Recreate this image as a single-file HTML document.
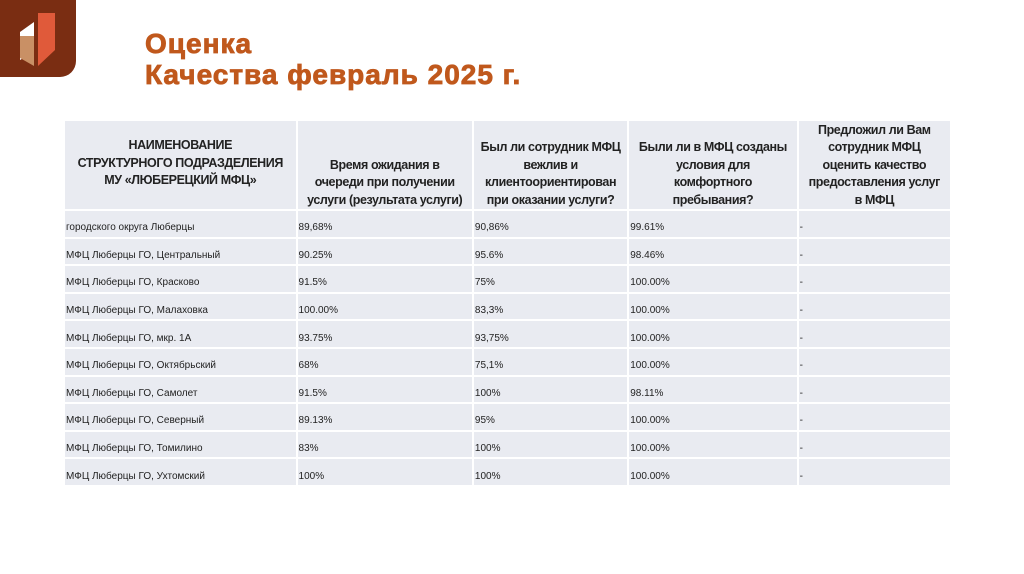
<!DOCTYPE html>
<html><head><meta charset="utf-8"><style>
body{margin:0;width:1024px;height:574px;background:#fff;position:relative;overflow:hidden;font-family:"Liberation Sans","DejaVu Sans",sans-serif}
.logo{position:absolute;left:0;top:0;width:76px;height:77px;background:#7a2d12;border-radius:0 0 16px 0}
h1{position:absolute;left:145px;top:28px;margin:0;font-size:28px;line-height:31px;color:#c0581c;font-weight:bold;letter-spacing:1px;-webkit-text-stroke:0.8px #c0581c}
table{position:absolute;left:63px;top:119px;border-collapse:separate;border-spacing:2px;table-layout:fixed;width:889px}
td,th{background:#e9ebf1;padding:0 2px;white-space:nowrap;overflow:hidden}
th{font-size:12.5px;font-weight:bold;color:#222;text-align:center;height:88px;line-height:17.5px;vertical-align:bottom;padding:0;letter-spacing:-0.4px;box-sizing:border-box}
td{font-size:10px;line-height:12px;color:#222;height:16.6px;vertical-align:middle;padding:9px 1px 0}
</style></head><body>
<div class="logo">
<svg width="76" height="77" viewBox="0 0 76 77"><polygon points="20,32 34,22 34,52 20,60" fill="#fff"/><polygon points="20,36 34,36 34,66 20,58" fill="#c99065"/><polygon points="38,13 55,13 55,50 38,66" fill="#e05a3a"/></svg>
</div>
<h1>Оценка<br>Качества февраль 2025 г.</h1>
<table>
<colgroup><col style="width:230px"><col style="width:174px"><col style="width:153px"><col style="width:167px"><col style="width:151px"></colgroup>
<tr style="height:88px">
<th style="vertical-align:top;padding-top:16px">НАИМЕНОВАНИЕ<br>СТРУКТУРНОГО ПОДРАЗДЕЛЕНИЯ<br>МУ «ЛЮБЕРЕЦКИЙ МФЦ»</th>
<th>Время ожидания в<br>очереди при получении<br>услуги (результата услуги)</th>
<th>Был ли сотрудник МФЦ<br>вежлив и<br>клиентоориентирован<br>при оказании услуги?</th>
<th>Были ли в МФЦ созданы<br>условия для<br>комфортного<br>пребывания?</th>
<th>Предложил ли Вам<br>сотрудник МФЦ<br>оценить качество<br>предоставления услуг<br>в МФЦ</th>
</tr>
<tr><td>городского округа Люберцы</td><td>89,68%</td><td>90,86%</td><td>99.61%</td><td>-</td></tr>
<tr><td>МФЦ Люберцы ГО, Центральный</td><td>90.25%</td><td>95.6%</td><td>98.46%</td><td>-</td></tr>
<tr><td>МФЦ Люберцы ГО, Красково</td><td>91.5%</td><td>75%</td><td>100.00%</td><td>-</td></tr>
<tr><td>МФЦ Люберцы ГО, Малаховка</td><td>100.00%</td><td>83,3%</td><td>100.00%</td><td>-</td></tr>
<tr><td>МФЦ Люберцы ГО, мкр. 1А</td><td>93.75%</td><td>93,75%</td><td>100.00%</td><td>-</td></tr>
<tr><td>МФЦ Люберцы ГО, Октябрьский</td><td>68%</td><td>75,1%</td><td>100.00%</td><td>-</td></tr>
<tr><td>МФЦ Люберцы ГО, Самолет</td><td>91.5%</td><td>100%</td><td>98.11%</td><td>-</td></tr>
<tr><td>МФЦ Люберцы ГО, Северный</td><td>89.13%</td><td>95%</td><td>100.00%</td><td>-</td></tr>
<tr><td>МФЦ Люберцы ГО, Томилино</td><td>83%</td><td>100%</td><td>100.00%</td><td>-</td></tr>
<tr><td>МФЦ Люберцы ГО, Ухтомский</td><td>100%</td><td>100%</td><td>100.00%</td><td>-</td></tr>
</table>
</body></html>
